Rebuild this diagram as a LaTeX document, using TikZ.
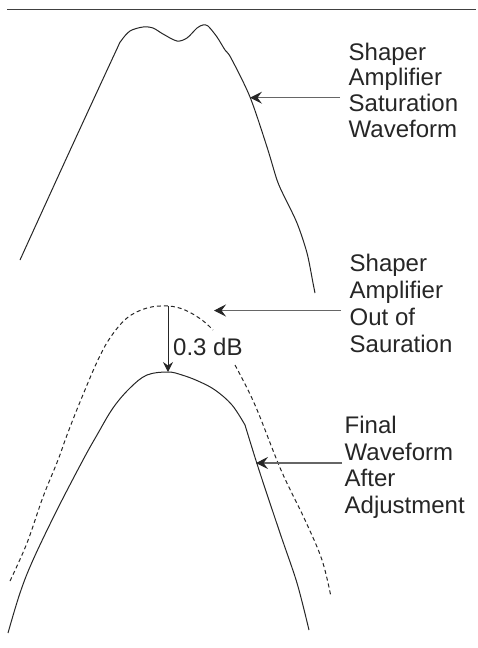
\documentclass[tikz,border=0pt]{standalone}
\usepackage{fontspec}
\setmainfont{Liberation Sans}
\usetikzlibrary{arrows.meta}
\begin{document}
\begin{tikzpicture}[x=1pt,y=-1pt,
  curve/.style={draw=black!85,line width=1pt,line join=round},
  dcurve/.style={curve,dash pattern=on 4pt off 3pt},
  pointer/.style={draw=black!60,line width=1.1pt,-{Stealth[length=12pt,width=12pt,inset=4.5pt,black!85]}},
  drop/.style={draw=black!85,line width=1pt,-{Stealth[length=10pt,width=10pt,inset=3.5pt,black!85]}},
  lbl/.style={anchor=base west,inner sep=0pt,font=\fontsize{24}{26}\selectfont,text=black!85}]
\useasboundingbox (0,0) rectangle (478,648);
% top rule
\coordinate (r1) at (7,9.5);
\coordinate (r2) at (476,9.5);
\draw[draw=black!75,line width=1.3pt] (r1) -- (r2);
% saturated waveform
\draw[curve] plot[smooth,tension=0.5] coordinates {(20,260) (67,157) (115,53) (121,41) (130,31) (143,27) (153,28) (163,34) (177,41) (187,38) (197,28) (203,25) (208,26) (217,37) (225,50) (231,58) (250,97) (267,147) (277,180) (284,196) (297,223) (307,253) (313,283) (315,293)};
% dashed out-of-saturation waveform
\draw[dcurve] plot[smooth,tension=0.6] coordinates {(10,581) (27,543) (43,497) (58,460) (67,435) (80,402) (97,362) (110,338) (127,318) (147,308) (168,306) (185,310) (202,320) (213,330)};
\draw[dcurve] plot[smooth,tension=0.6] coordinates {(235,365) (255,405) (281,470) (305,520) (322,560) (331,597)};
% final waveform
\draw[curve] plot[smooth,tension=0.6] coordinates {(8,633) (20,593) (33,560) (57,510) (83,460) (97,435) (113,408) (130,388) (147,375) (168,372) (182,375) (198,381) (215,390) (232,405) (245,425)};
\draw[curve] plot[smooth,tension=0.5] coordinates {(245,425) (259,470) (280,533) (297,583) (309,630)};
% 0.3 dB arrow
\coordinate (dtop) at (168,306);
\coordinate (dbot) at (168,372);
\draw[drop] (dtop) -- (dbot);
\node[lbl] (db) at (173,355) {0.3 dB};
% pointers
\coordinate (p1s) at (340,97.7);
\coordinate (p1e) at (250,97.7);
\coordinate (p2s) at (341,310.5);
\coordinate (p2e) at (214,310.5);
\coordinate (p3s) at (342,463);
\coordinate (p3e) at (256,463);
\draw[pointer] (p1s) -- (p1e);
\draw[pointer] (p2s) -- (p2e);
\draw[pointer] (p3s) -- (p3e);
% labels
\node[lbl] (a1) at (348.5,60) {Shaper};
\node[lbl] (a2) at (348.5,85.8) {Amplifier};
\node[lbl] (a3) at (348.5,111.6) {Saturation};
\node[lbl] (a4) at (348.5,137.4) {Waveform};
\node[lbl] (b1) at (349.5,271) {Shaper};
\node[lbl] (b2) at (349.5,298) {Amplifier};
\node[lbl] (b3) at (349.5,325) {Out of};
\node[lbl] (b4) at (349.5,352) {Sauration};
\node[lbl] (c1) at (344.5,433) {Final};
\node[lbl] (c2) at (344.5,460) {Waveform};
\node[lbl] (c3) at (344.5,486.5) {After};
\node[lbl] (c4) at (344.5,513) {Adjustment};
\end{tikzpicture}
\end{document}
